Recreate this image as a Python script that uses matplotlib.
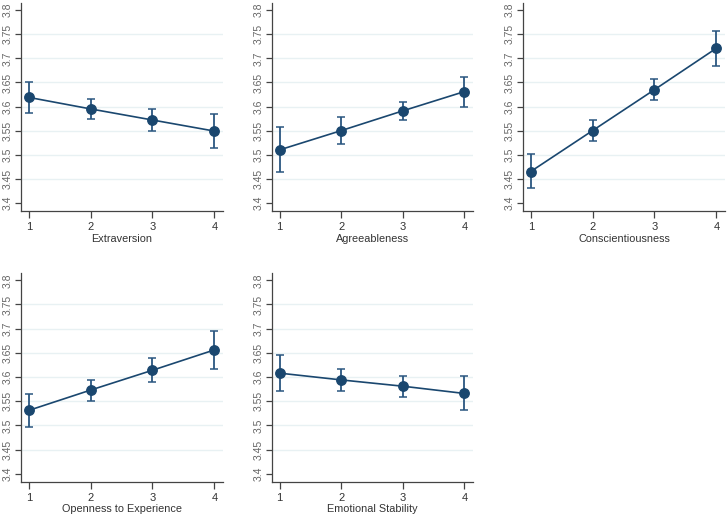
import numpy as np
import matplotlib.pyplot as plt

plt.rcParams["font.family"] = ["Liberation Sans", "DejaVu Sans"]

levels = [1, 2, 3, 4]
yticks = [3.4, 3.45, 3.5, 3.55, 3.6, 3.65, 3.7, 3.75, 3.8]
ytick_labels = ["3.4", "3.45", "3.5", "3.55", "3.6", "3.65", "3.7", "3.75", "3.8"]

traits = ["Extraversion", "Agreeableness", "Conscientiousness",
          "Openness to Experience", "Emotional Stability"]

means = [
    [3.619, 3.595, 3.572, 3.549],
    [3.510, 3.550, 3.591, 3.631],
    [3.465, 3.550, 3.635, 3.721],
    [3.531, 3.573, 3.614, 3.656],
    [3.608, 3.594, 3.581, 3.566],
]
lower = [
    [3.587, 3.574, 3.549, 3.513],
    [3.465, 3.522, 3.571, 3.600],
    [3.430, 3.529, 3.614, 3.685],
    [3.497, 3.551, 3.590, 3.616],
    [3.572, 3.572, 3.558, 3.531],
]
upper = [
    [3.650, 3.616, 3.595, 3.585],
    [3.557, 3.579, 3.610, 3.662],
    [3.502, 3.572, 3.658, 3.756],
    [3.565, 3.594, 3.639, 3.695],
    [3.645, 3.617, 3.603, 3.603],
]

W, H = 728, 516
# axes boxes in pixels: left, right, top, bottom
boxes = [
    (21, 223, 3, 211),
    (272, 473, 3, 211),
    (523, 725, 3, 211),
    (21, 223, 273, 482),
    (272, 473, 273, 482),
]

navy = "#1a476f"
fig = plt.figure(figsize=(W / 100, H / 100), dpi=100)
fig.patch.set_facecolor("white")

for i, name in enumerate(traits):
    l, r, t, b = boxes[i]
    ax = fig.add_axes([l / W, 1 - b / H, (r - l) / W, (b - t) / H])
    m = np.array(means[i])
    err = np.vstack([m - np.array(lower[i]), np.array(upper[i]) - m])

    for yv in yticks[1:-1]:
        ax.axhline(yv, color="#e8f1f3", lw=1.0, zorder=0)

    ax.plot(levels, m, color=navy, lw=1.2, zorder=2)
    ax.errorbar(levels, m, yerr=err, fmt="none", ecolor="#2a5680",
                elinewidth=1.3, capsize=2.6, capthick=1.1, zorder=3)
    ax.plot(levels, m, "o", color=navy, ms=6.8, zorder=4)

    ax.set_xlim(0.875, 4.14)
    ax.set_ylim(3.383, 3.815)
    ax.set_xticks(levels)
    ax.set_xticklabels([str(v) for v in levels], fontsize=8, color="#333333")
    ax.set_yticks(yticks)
    ax.set_yticklabels(ytick_labels, rotation=90, va="center",
                       fontsize=7.5, color="#666666")
    ax.tick_params(axis="x", length=5, width=0.9, color="#444444", pad=3)
    ax.tick_params(axis="y", length=4, width=0.9, color="#444444", pad=2)
    ax.set_xlabel(name, fontsize=7.8, color="#333333", labelpad=1)

    for s in ["top", "right"]:
        ax.spines[s].set_visible(False)
    for s in ["left", "bottom"]:
        ax.spines[s].set_color("#444444")
        ax.spines[s].set_linewidth(0.9)

fig.savefig("out.png", dpi=100)
